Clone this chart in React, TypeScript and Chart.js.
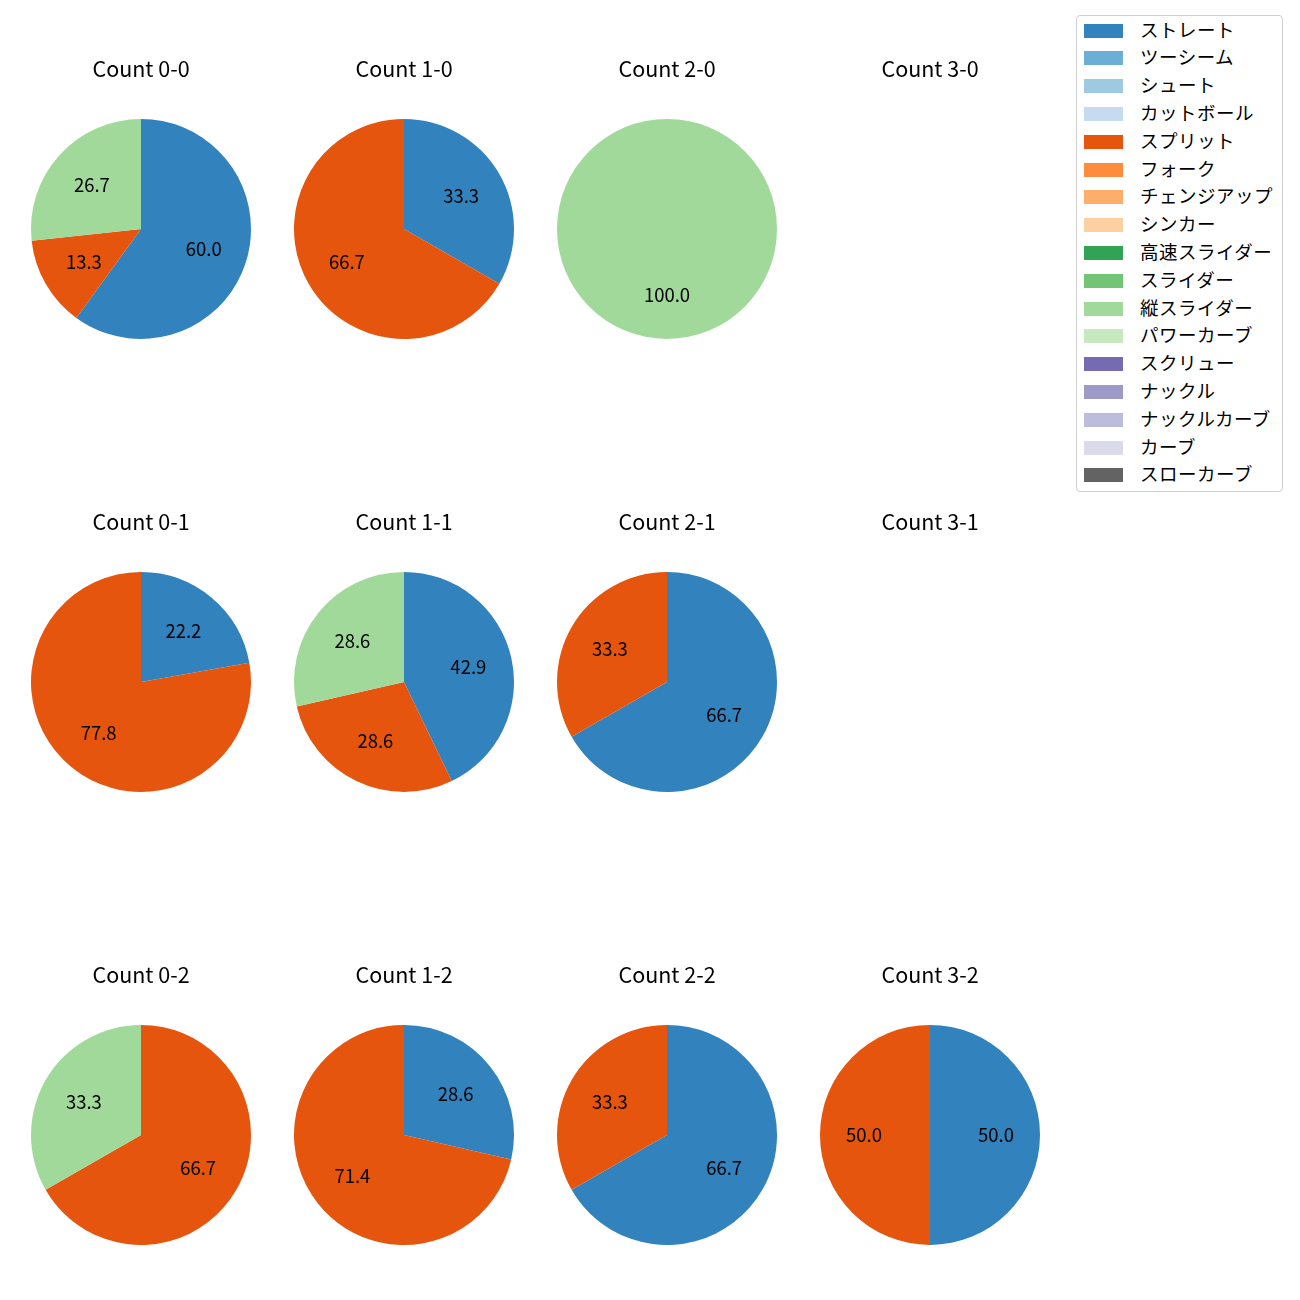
import React, { useEffect, useRef } from "react";
import { Chart, registerables } from "chart.js";

Chart.register(...registerables);

const pitchTypes = [
  "ストレート", "ツーシーム", "シュート", "カットボール",
  "スプリット", "フォーク", "チェンジアップ", "シンカー",
  "高速スライダー", "スライダー", "縦スライダー", "パワーカーブ",
  "スクリュー", "ナックル", "ナックルカーブ", "カーブ", "スローカーブ",
];
const pitchColors = [
  "#3182bd", "#6baed6", "#9ecae1", "#c6dbef",
  "#e6550d", "#fd8d3c", "#fdae6b", "#fdd0a2",
  "#31a354", "#74c476", "#a1d99b", "#c7e9c0",
  "#756bb1", "#9e9ac8", "#bcbddc", "#dadaeb", "#636363",
];

const countTitles = [
  "Count 0-0", "Count 1-0", "Count 2-0", "Count 3-0",
  "Count 0-1", "Count 1-1", "Count 2-1", "Count 3-1",
  "Count 0-2", "Count 1-2", "Count 2-2", "Count 3-2",
];
// percentages per count, for the pitch types that appear
const straightPct = [60.0, 33.3, 0, 0, 22.2, 42.9, 66.7, 0, 0, 28.6, 66.7, 50.0];
const splitPct = [13.3, 66.7, 0, 0, 77.8, 28.6, 33.3, 0, 66.7, 71.4, 33.3, 50.0];
const verticalSliderPct = [26.7, 0, 100.0, 0, 0, 28.6, 0, 0, 33.3, 0, 0, 0];

const FONT = "'Noto Sans CJK JP', 'Noto Sans', sans-serif";
const TITLE_SIZE = 21.5;
const TITLE_LH = TITLE_SIZE * 1.2;
const CANVAS_TOP = 69 - TITLE_LH / 2;
const TITLE_PAD = 119 - CANVAS_TOP - TITLE_LH;
const CANVAS_H = TITLE_LH + TITLE_PAD + 220;

const labelPlugin = {
  id: "pctLabels",
  afterDatasetsDraw(chart: any) {
    const ctx = chart.ctx;
    const meta = chart.getDatasetMeta(0);
    const values = chart.data.datasets[0].data;
    ctx.save();
    ctx.font = `18.5px ${FONT}`;
    ctx.fillStyle = "#000";
    ctx.textAlign = "center";
    ctx.textBaseline = "middle";
    meta.data.forEach((arc: any, i: number) => {
      const p = arc.getProps(["x", "y", "startAngle", "endAngle", "outerRadius"], true);
      const mid = (p.startAngle + p.endAngle) / 2;
      const r = p.outerRadius * 0.6;
      ctx.fillText(Number(values[i]).toFixed(1), p.x + Math.cos(mid) * r, p.y + Math.sin(mid) * r);
    });
    ctx.restore();
  },
};

function PieCell({ index }: { index: number }) {
  const ref = useRef<HTMLCanvasElement>(null);
  useEffect(() => {
    const series = [
      { name: pitchTypes[0], color: pitchColors[0], v: straightPct[index] },
      { name: pitchTypes[4], color: pitchColors[4], v: splitPct[index] },
      { name: pitchTypes[10], color: pitchColors[10], v: verticalSliderPct[index] },
    ].filter((s) => s.v > 0);
    const chart = new Chart(ref.current!, {
      type: "pie",
      data: {
        labels: series.map((s) => s.name),
        datasets: [
          {
            data: series.map((s) => s.v),
            backgroundColor: series.map((s) => s.color),
            borderWidth: 0,
          },
        ],
      },
      options: {
        responsive: false,
        animation: false,
        layout: { padding: { left: 10, right: 10, top: 0, bottom: 0 } },
        plugins: {
          legend: { display: false },
          tooltip: { enabled: false },
          title: {
            display: true,
            text: countTitles[index],
            color: "#000",
            font: { family: FONT, size: TITLE_SIZE, weight: "normal" as any, lineHeight: 1.2 },
            padding: { top: 0, bottom: TITLE_PAD },
          },
        },
      },
      plugins: [labelPlugin],
    });
    return () => chart.destroy();
  }, [index]);
  const col = index % 4;
  const row = Math.floor(index / 4);
  const cx = 141 + col * 263;
  const top = CANVAS_TOP + row * 453;
  return (
    <canvas
      ref={ref}
      width={240}
      height={Math.round(CANVAS_H)}
      style={{ position: "absolute", left: cx - 120, top, width: 240, height: Math.round(CANVAS_H) }}
    />
  );
}

export default function App() {
  return (
    <div style={{ position: "absolute", left: 0, top: 0, width: 1300, height: 1300, background: "#fff" }}>
      {countTitles.map((_, i) => (
        <PieCell key={i} index={i} />
      ))}
      <div
        style={{
          position: "absolute",
          left: 1076,
          top: 15,
          width: 205,
          height: 475,
          border: "1px solid #d0d0d0",
          borderRadius: 4,
          background: "#fff",
          fontFamily: FONT,
          fontSize: 18.5,
        }}
      >
        {pitchTypes.map((t, i) => (
          <div
            key={t}
            style={{ position: "absolute", left: 0, top: 14.5 + i * 27.8 - 14, height: 28, width: 205 }}
          >
            <div
              style={{
                position: "absolute",
                left: 7,
                top: 7,
                width: 39,
                height: 14,
                background: pitchColors[i],
              }}
            />
            <div
              style={{
                position: "absolute",
                left: 63,
                top: -2,
                lineHeight: "28px",
                whiteSpace: "nowrap",
                letterSpacing: "0.5px",
                color: "#000",
              }}
            >
              {t}
            </div>
          </div>
        ))}
      </div>
    </div>
  );
}
